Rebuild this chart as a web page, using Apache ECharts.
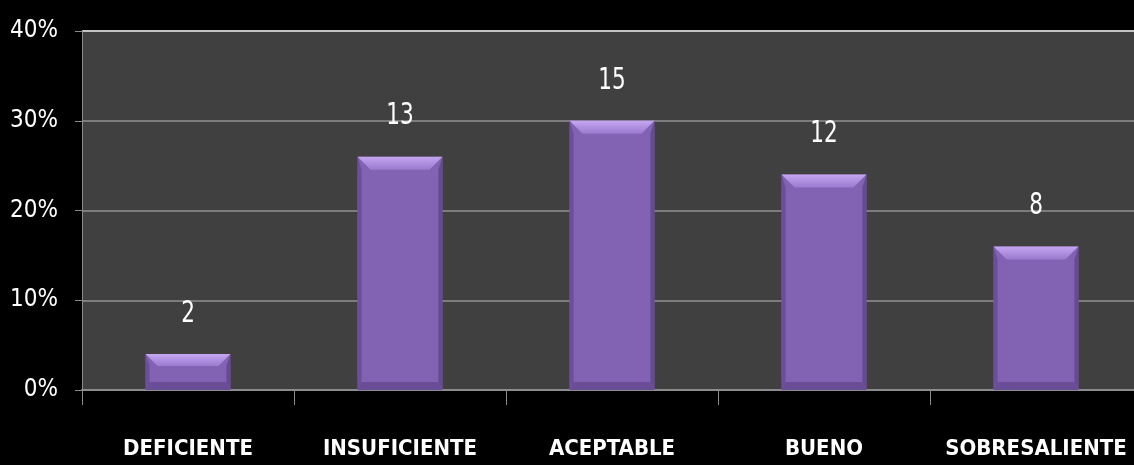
<!DOCTYPE html>
<html>
<head>
<meta charset="utf-8">
<script src="https://cdn.jsdelivr.net/npm/echarts@6/dist/echarts.min.js"></script>
<style>
  html, body { margin: 0; padding: 0; background: #000; }
  #chart { width: 1134px; height: 465px; }
</style>
</head>
<body>
<div id="chart"></div>
<script>
// Chart data
const categories = ['DEFICIENTE', 'INSUFICIENTE', 'ACEPTABLE', 'BUENO', 'SOBRESALIENTE']
const percents = [4, 26, 30, 24, 16]
const counts = [2, 13, 15, 12, 8]
const yTicks = [0, 10, 20, 30, 40]

const FONT = "'Liberation Sans Narrow', 'DejaVu Sans Condensed', 'Roboto', sans-serif"

const chart = echarts.init(document.getElementById('chart'))

// Bevelled bar, drawn from the axis scales
const renderBar = (params, api) => {
  const x = api.value(0)
  const v = api.value(1)
  const top = api.coord([x, v])
  const base = api.coord([x, 0])
  const w = api.size([1, 0])[0] * 0.4
  const l = top[0] - w / 2
  const r = top[0] + w / 2
  const t = top[1]
  const b = base[1]
  const bev = Math.min(13, (b - t) / 3)
  const side = 4
  const foot = Math.min(8, (b - t) / 4)
  return {
    type: 'group',
    children: [
      { type: 'rect', shape: { x: l, y: t, width: w, height: b - t }, style: { fill: '#8262b2' } },
      {
        type: 'polygon',
        shape: { points: [[l, t], [l + side, t + bev], [l + side, b - foot], [l, b]] },
        style: { fill: '#6c4f9a' }
      },
      {
        type: 'polygon',
        shape: { points: [[r, t], [r - side, t + bev], [r - side, b - foot], [r, b]] },
        style: { fill: '#674a94' }
      },
      {
        type: 'polygon',
        shape: { points: [[l, b], [r, b], [r - side, b - foot], [l + side, b - foot]] },
        style: { fill: '#6a4d97' }
      },
      {
        type: 'polygon',
        shape: { points: [[l, t], [r, t], [r - bev, t + bev], [l + bev, t + bev]] },
        style: {
          fill: new echarts.graphic.LinearGradient(0, 0, 0, 1, [
            { offset: 0, color: '#c4a6f2' },
            { offset: 1, color: '#9a7ace' }
          ])
        }
      },
      {
        type: 'text',
        x: top[0],
        y: t - 40,
        scaleY: 1.25,
        style: {
          text: String(api.value(2)),
          x: 0,
          y: 0,
          align: 'center',
          verticalAlign: 'middle',
          fill: '#ffffff',
          font: '24px ' + FONT
        }
      }
    ]
  }
}

const option = {
  backgroundColor: '#000000',
  animation: false,
  grid: {
    left: 82,
    top: 31,
    width: 1060,
    bottom: 75,
    outerBoundsMode: 'none',
    show: true,
    backgroundColor: '#404040',
    borderWidth: 0
  },
  xAxis: {
    type: 'category',
    data: categories,
    boundaryGap: true,
    axisLine: { lineStyle: { color: '#8c8c8c', width: 2 } },
    axisTick: { show: true, interval: 0, length: 15, lineStyle: { color: '#8c8c8c', width: 1 } },
    axisLabel: {
      interval: 0,
      color: '#ffffff',
      fontFamily: FONT,
      fontWeight: 'bold',
      fontSize: 22,
      margin: 48
    },
    splitLine: { show: false }
  },
  yAxis: {
    type: 'value',
    min: yTicks[0],
    max: yTicks[yTicks.length - 1],
    interval: 10,
    axisLine: { show: true, lineStyle: { color: '#8c8c8c', width: 1 } },
    axisTick: { show: true, length: 7, lineStyle: { color: '#8c8c8c' } },
    axisLabel: {
      color: '#ffffff',
      fontFamily: FONT,
      fontSize: 24,
      margin: 24,
      formatter: '{value}%'
    },
    splitLine: {
      show: true,
      lineStyle: { color: ['#8c8c8c', '#7c7c7c', '#7c7c7c', '#7c7c7c', '#c4c4c4'], width: 2 }
    }
  },
  series: [
    {
      type: 'custom',
      renderItem: renderBar,
      encode: { x: 0, y: 1 },
      data: categories.map((c, i) => [i, percents[i], counts[i]])
    }
  ]
}

chart.setOption(option)
</script>
</body>
</html>
